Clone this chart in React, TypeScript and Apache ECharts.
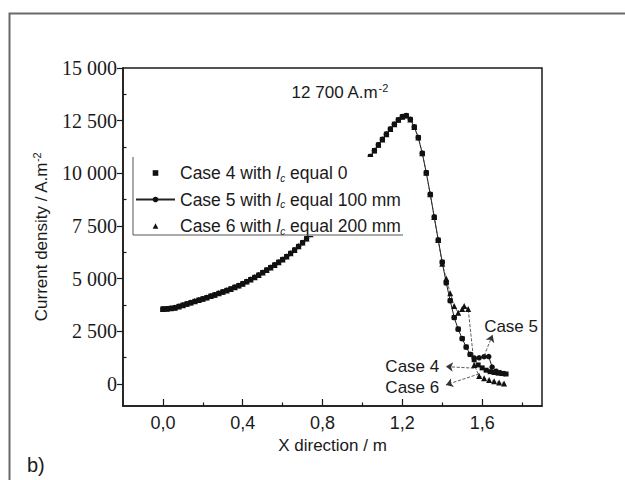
import React, { useEffect, useRef } from 'react';
import * as echarts from 'echarts';

// Shared part of the three curves (they overlap up to x = 1.38 m)
const frontX = [0.00,0.02,0.04,0.06,0.08,0.10,0.12,0.14,0.16,0.18,0.20,0.22,0.24,0.26,0.28,0.30,0.32,0.34,0.36,0.38,0.40,0.42,0.44,0.46,0.48,0.50,0.52,0.54,0.56,0.58,0.60,0.62,0.64,0.66,0.68,0.70,0.72,0.74,0.76,0.78,0.80,0.82,0.84,0.86,0.88,0.90,0.92,0.94,0.96,0.98,1.00,1.02,1.04,1.06,1.08,1.10,1.12,1.14,1.16,1.18,1.20,1.22,1.24,1.26,1.28,1.30,1.32,1.34,1.36,1.38];
const frontY = [3560,3570,3590,3620,3680,3740,3800,3860,3920,3980,
  4040,4100,4170,4230,4300,4370,4440,4510,4590,4670,
  4760,4860,4960,5060,5170,5290,5410,5530,5650,5780,
  5910,6050,6200,6360,6530,6710,6900,7100,7320,7540,
  7770,8000,8240,8480,8730,8980,9230,9490,9750,10000,
  10260,10520,10800,11080,11350,11610,11860,12100,12330,12540,
  12690,12740,12560,12200,11700,10950,10030,9000,7920,6830];

// Tails after x = 1.38 m
const case4Tail = [[1.40,5780],[1.42,4800],[1.44,3950],[1.46,3150],[1.48,2600],[1.50,2150],[1.52,1750],[1.54,1400],[1.56,1150],[1.58,900],[1.60,760],[1.62,650],[1.64,580],[1.66,540],[1.68,510],[1.70,490],[1.72,470]];
const case5Tail = [[1.40,5780],[1.42,4800],[1.44,3950],[1.46,3150],[1.48,2600],[1.50,2150],[1.52,1750],[1.54,1400],[1.56,1230],[1.585,1240],[1.61,1290],[1.633,1300],[1.65,800],[1.67,600],[1.69,530],[1.71,490]];
const case6Tail = [[1.40,5700],[1.42,5000],[1.44,4300],[1.46,3700],[1.48,3380],[1.50,3560],[1.51,3700],[1.53,3560],[1.56,900],[1.585,380],[1.61,270],[1.635,190],[1.66,120],[1.685,70],[1.71,20]];

const seriesNames = ['Case 4', 'Case 5', 'Case 6'];
const legendTexts = [
  'Case 4 with {i|l}{sub|c} equal 0',
  'Case 5 with {i|l}{sub|c} equal 100 mm',
  'Case 6 with {i|l}{sub|c} equal 200 mm',
];

const yLabelValues = [0, 2500, 5000, 7500, 10000, 12500, 15000];
const yMinorValues = [1250, 3750, 6250, 8750, 11250, 13750];
const xLabelValues = [0, 0.4, 0.8, 1.2, 1.6];
const xMinorValues = [0.2, 0.6, 1.0, 1.4, 1.8];

// Annotation arrows [from, to] in data units, and texts
const arrows = [
  [[1.56, 745], [1.4185, 821]],
  [[1.585, 475], [1.4185, -47]],
  [[1.61, 1330], [1.652, 2326]],
];
const notes = [
  { text: '12 700 A.m{sup|-2}', x: 0.645, y: 13814 },
  { text: 'Case 5', x: 1.61, y: 2730 },
  { text: 'Case 4', x: 1.115, y: 831 },
  { text: 'Case 6', x: 1.115, y: -166 },
];

const SANS = 'Liberation Sans';
const SERIF = 'Liberation Serif';
const INK = '#1a1a1a';

function build(tail: number[][]) {
  const d: number[][] = frontX.map((x, i) => [x, frontY[i]]);
  return d.concat(tail);
}

export default function App() {
  const ref = useRef<HTMLDivElement>(null);
  useEffect(() => {
    if (!ref.current) return;
    const chart = echarts.init(ref.current, undefined, { renderer: 'svg' });
    const supRich = {
      sup: { fontSize: 11, fontFamily: SANS, color: INK, verticalAlign: 'top', lineHeight: 11 },
    };
    const option: any = {
      animation: false,
      backgroundColor: '#fff',
      grid: {
        left: 123, top: 68, width: 419, height: 338,
        show: true, borderColor: INK, borderWidth: 1.5, backgroundColor: 'transparent',
      },
      legend: {
        orient: 'vertical',
        left: 133, top: 157,
        z: 20,
        padding: [6, 5, 0, 2],
        itemGap: 6.5,
        itemWidth: 39,
        itemHeight: 7,
        backgroundColor: '#fff',
        selectedMode: false,
        data: [
          { name: seriesNames[0] },
          { name: seriesNames[1] },
          { name: seriesNames[2], lineStyle: { opacity: 0 } },
        ],
        formatter: (n: string) => legendTexts[seriesNames.indexOf(n)],
        textStyle: {
          fontFamily: SANS, fontSize: 17.5, color: INK, lineHeight: 20,
          rich: {
            i: { fontFamily: SANS, fontSize: 17.5, fontStyle: 'italic', color: INK, lineHeight: 20 },
            sub: { fontFamily: SANS, fontSize: 10, fontStyle: 'italic', color: INK, verticalAlign: 'bottom', lineHeight: 9 },
          },
        },
      },
      xAxis: [
        {
          type: 'value', min: -0.2, max: 1.9, position: 'bottom',
          axisLine: { onZero: false, lineStyle: { color: INK, width: 1.5 } },
          axisTick: { inside: true, length: 7, customValues: xLabelValues, lineStyle: { color: INK, width: 1.2 } },
          axisLabel: {
            customValues: xLabelValues, margin: 8,
            formatter: (v: number) => v.toFixed(1).replace('.', ','),
            fontFamily: SANS, fontSize: 18, color: INK,
          },
          splitLine: { show: false },
          name: 'X direction / m', nameLocation: 'middle', nameGap: 31,
          nameTextStyle: { fontFamily: SANS, fontSize: 17, color: INK },
        },
        {
          type: 'value', min: -0.2, max: 1.9, position: 'bottom',
          axisLine: { show: false, onZero: false },
          axisTick: { inside: true, length: 3.5, customValues: xMinorValues, lineStyle: { color: INK, width: 1.2 } },
          axisLabel: { show: false },
          splitLine: { show: false },
        },
      ],
      yAxis: [
        {
          type: 'value', min: -1050, max: 15000, position: 'left',
          axisLine: { show: true, onZero: false, lineStyle: { color: INK, width: 1.5 } },
          axisTick: { show: true, inside: false, length: 6, customValues: yLabelValues, lineStyle: { color: INK, width: 1.2 } },
          axisLabel: {
            customValues: yLabelValues, margin: 6,
            formatter: (v: number) => String(v).replace(/\B(?=(\d{3})+(?!\d))/g, ' '),
            fontFamily: SERIF, fontSize: 20, color: INK,
          },
          splitLine: { show: false },
          name: 'Current density / A.m{sup|-2}', nameLocation: 'middle', nameGap: 70, nameRotate: 90,
          nameTextStyle: { fontFamily: SANS, fontSize: 17, color: INK, lineHeight: 20, rich: supRich },
        },
        {
          type: 'value', min: -1050, max: 15000, position: 'left',
          axisLine: { show: false, onZero: false },
          axisTick: { show: true, inside: true, length: 3.5, customValues: yMinorValues, lineStyle: { color: INK, width: 1.2 } },
          axisLabel: { show: false },
          splitLine: { show: false },
        },
      ],
      series: [
        {
          name: seriesNames[0], type: 'line', data: build(case4Tail),
          symbol: 'rect', symbolSize: 5, showSymbol: true,
          itemStyle: { color: '#111' },
          lineStyle: { opacity: 0, width: 0 },
          markLine: {
            silent: true, symbol: ['none', 'arrow'], symbolSize: 7,
            lineStyle: { type: 'dashed', color: '#333', width: 0.8 },
            label: { show: false },
            data: arrows.map((a) => [{ coord: a[0] }, { coord: a[1] }]),
          },
        },
        {
          name: seriesNames[1], type: 'line', data: build(case5Tail),
          symbol: 'circle', symbolSize: 5.5, showSymbol: true,
          itemStyle: { color: '#111' },
          lineStyle: { color: '#222', width: 1 },
          markPoint: {
            silent: true, symbol: 'circle', symbolSize: 0,
            label: {
              show: true, position: 'right', distance: 0, align: 'left', verticalAlign: 'middle',
              fontFamily: SANS, fontSize: 17, color: INK, lineHeight: 20, rich: supRich,
            },
            data: notes.map((n) => ({ coord: [n.x, n.y], value: 0, label: { formatter: n.text } })),
          },
        },
        {
          name: seriesNames[2], type: 'line', data: build(case6Tail),
          symbol: 'triangle', symbolSize: 6, showSymbol: true,
          itemStyle: { color: '#111' },
          lineStyle: { color: '#333', width: 0.8, type: 'dashed' },
        },
      ],
      graphic: [
        { type: 'rect', left: 7, top: 11, z: 100, shape: { width: 700, height: 600 }, style: { fill: 'none', stroke: '#6a6a6a', lineWidth: 2 } },
        { type: 'line', z: 100, shape: { x1: 133, y1: 157, x2: 133, y2: 235 }, style: { stroke: '#555', lineWidth: 1 } },
        { type: 'line', z: 100, shape: { x1: 133, y1: 235, x2: 403, y2: 235 }, style: { stroke: '#555', lineWidth: 1 } },
        { type: 'text', left: 27, top: 455, z: 100, style: { text: 'b)', fontFamily: SANS, fontSize: 20, fill: INK } },
      ],
    };
    chart.setOption(option);
    return () => chart.dispose();
  }, []);
  return <div ref={ref} style={{ position: 'absolute', left: 0, top: 0, width: 625, height: 480 }} />;
}
